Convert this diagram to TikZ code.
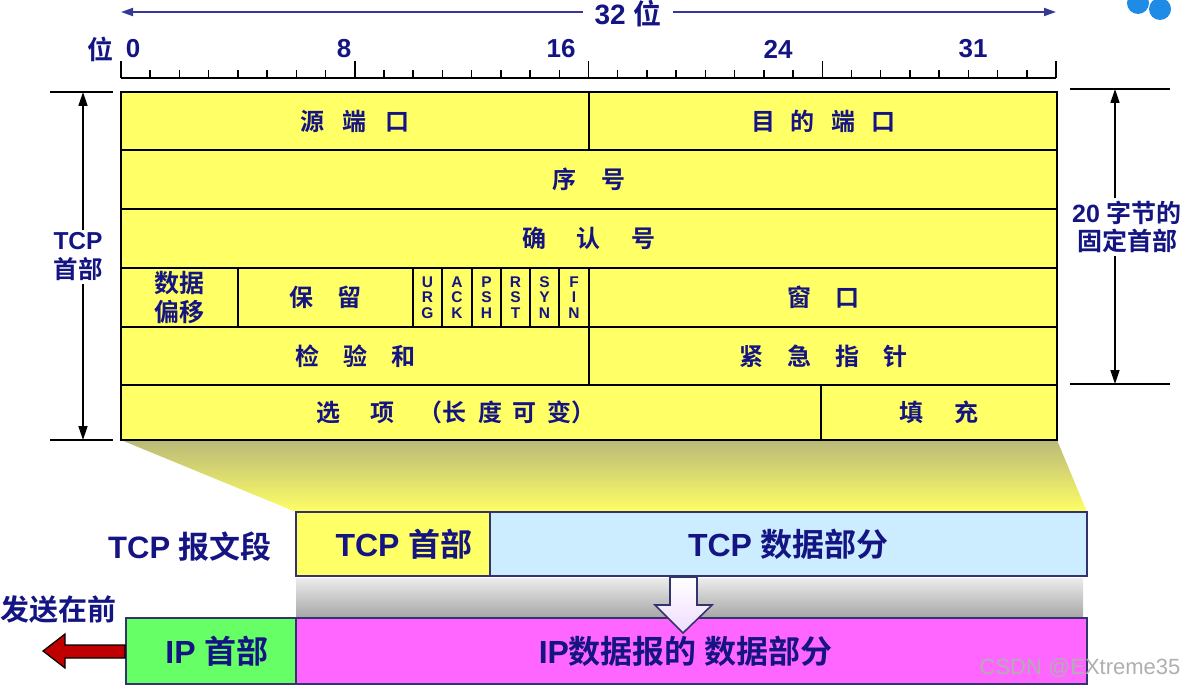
\documentclass[tikz,border=0pt]{standalone}
\usepackage{fontspec}
\setmainfont{Liberation Sans}
\newfontfamily\cjk{Noto Sans CJK SC}[BoldFont={Noto Sans CJK SC Bold}]
\usetikzlibrary{arrows.meta,positioning}
\definecolor{navy}{RGB}{20,20,130}
\definecolor{rulerblue}{RGB}{55,55,150}
\definecolor{hdryellow}{RGB}{255,255,102}
\definecolor{funneltop}{RGB}{185,185,120}
\definecolor{datablue}{RGB}{204,236,255}
\definecolor{ipgreen}{RGB}{102,255,102}
\definecolor{ipmagenta}{RGB}{255,102,255}
\definecolor{boxline}{RGB}{51,51,110}
\definecolor{arrowred}{RGB}{192,0,0}
\definecolor{arrowpink}{RGB}{240,220,255}
\definecolor{iconblue}{RGB}{30,140,230}
\definecolor{markgray}{RGB}{175,175,175}
\newcommand{\zh}[1]{{\cjk #1}}
\newcommand{\gap}[1]{\hspace{#1pt}}
\tikzset{
    %Define standard arrow tip
    >={Triangle[length=14pt,width=9pt]},
    %Define style for header cells
    cell/.style={
           rectangle,
           draw=black, line width=1.4pt,
           fill=hdryellow,
           inner sep=0pt, outer sep=0pt,
           text=navy,
           font=\fontsize{24}{28}\selectfont\bfseries,
           align=center},
    flag/.style={
           cell,
           font=\fontsize{15.5}{15.5}\selectfont\bfseries},
    %Define style for segment boxes
    seg/.style={
           rectangle,
           draw=boxline, line width=1.8pt,
           inner sep=0pt, outer sep=0pt,
           text=navy,
           font=\fontsize{32}{34}\selectfont\bfseries},
    %Define style for free labels
    lbl/.style={
           text=navy,
           font=\fontsize{26}{29}\selectfont\bfseries,
           align=center},
    big/.style={
           lbl,
           font=\fontsize{31}{34}\selectfont\bfseries},
    % Define bracket arrow style
    dim/.style={
           <->,
           line width=1.6pt}
}
\begin{document}
\begin{tikzpicture}[x=1pt,y=-1pt]
\useasboundingbox (0,0) rectangle (1188,692);
% funnel under the header
\shade[top color=funneltop, bottom color=hdryellow] (121,440) -- (1057,440) -- (1087,512) -- (296,512) -- cycle;
% header cells
\node[cell, minimum width=468pt, minimum height=58pt, anchor=north west] (src) at (121,92) {\zh{源\gap{19}端\gap{19}口}};
\node[cell, minimum width=468pt, minimum height=58pt, right=0pt of src] (dst) {\zh{目\gap{16}的\gap{16}端\gap{16}口}};
\node[cell, minimum width=936pt, minimum height=59pt, anchor=north west] (seq) at (src.south west) {\zh{序\gap{25}号}};
\node[cell, minimum width=936pt, minimum height=59pt, anchor=north west] (ack) at (seq.south west) {\zh{确\gap{31}认\gap{31}号}};
\node[cell, minimum width=117pt, minimum height=59pt, anchor=north west, font=\fontsize{25}{29}\selectfont\bfseries] (off) at (ack.south west) {\zh{数据}\\\zh{偏移}};
\node[cell, minimum width=175pt, minimum height=59pt, right=0pt of off] (rsv) {\zh{保\gap{25}留}};
\node[flag, minimum width=29pt, minimum height=59pt, right=0pt of rsv] (urg) {U\\R\\G};
\node[flag, minimum width=30pt, minimum height=59pt, right=0pt of urg] (ackf) {A\\C\\K};
\node[flag, minimum width=29pt, minimum height=59pt, right=0pt of ackf] (psh) {P\\S\\H};
\node[flag, minimum width=29pt, minimum height=59pt, right=0pt of psh] (rst) {R\\S\\T};
\node[flag, minimum width=29pt, minimum height=59pt, right=0pt of rst] (syn) {S\\Y\\N};
\node[flag, minimum width=30pt, minimum height=59pt, right=0pt of syn] (fin) {F\\I\\N};
\node[cell, minimum width=468pt, minimum height=59pt, right=0pt of fin] (win) {\zh{窗\gap{24}口}};
\node[cell, minimum width=468pt, minimum height=58pt, anchor=north west] (chk) at (off.south west) {\zh{检\gap{24}验\gap{24}和}};
\node[cell, minimum width=468pt, minimum height=58pt, right=0pt of chk] (uptr) {\zh{紧\gap{24}急\gap{24}指\gap{24}针}};
\node[cell, minimum width=700pt, minimum height=55pt, anchor=north west] (opt) at (chk.south west) {\zh{选\gap{31}项\gap{24}（长\gap{11}度\gap{11}可\gap{11}变）}\hspace*{30pt}};
\node[cell, minimum width=236pt, minimum height=55pt, right=0pt of opt] (pad) {\zh{填\gap{31}充}};
\draw[line width=2.8pt] (src.north west) rectangle (pad.south east);
% bit ruler
\coordinate (rl) at (121,78);
\coordinate (rr) at (1056,78);
\draw[line width=2pt] (rl) -- (rr);
\foreach \i in {0,...,32}{
  \pgfmathsetmacro{\th}{ifthenelse(mod(\i,8)==0,17,8)}
  \draw[line width=1.5pt] (121+\i*29.22,78) -- ++(0,-\th);
}
\node[lbl] (bitw) at (100,49) {\zh{位}};
\node[lbl] (b0) at (133,49) {0};
\node[lbl] (b8) at (344,49) {8};
\node[lbl] (b16) at (561,49) {16};
\node[lbl] (b24) at (778,49) {24};
\node[lbl] (b31) at (973,49) {31};
% 32 bit width arrow
\coordinate (wl) at (121,12);
\coordinate (wr) at (1056,12);
\draw[<->, draw=rulerblue, fill=rulerblue, line width=1.8pt, >={Triangle[length=12pt,width=8pt]}] (wl) -- (wr);
\node[lbl, fill=white, inner xsep=12pt, font=\fontsize{28}{30}\selectfont\bfseries] (wlbl) at (628,14) {32 \zh{位}};
% left bracket
\coordinate (lt) at (83,92);
\coordinate (lb) at (83,440);
\draw[line width=1.6pt] (50,92) -- (113,92);
\draw[line width=1.6pt] (50,440) -- (113,440);
\draw[dim] (lt) -- (lb);
\node[lbl, fill=white, font=\fontsize{24.5}{29}\selectfont\bfseries] (hdrlbl) at (78,257) {TCP\\\zh{首部}};
% right bracket
\coordinate (rt) at (1115,89);
\coordinate (rb) at (1115,384);
\draw[line width=1.6pt] (1070,89) -- (1170,89);
\draw[line width=1.6pt] (1070,384) -- (1170,384);
\draw[dim] (rt) -- (rb);
\node[lbl, fill=white, font=\fontsize{25}{28}\selectfont\bfseries] (fixlbl) at (1127,227) {20 \zh{字节的}\\\zh{固定首部}};
% TCP segment
\node[seg, fill=hdryellow, minimum width=194pt, minimum height=64pt] (tcphdr) at (393,544) {\hspace*{22pt}TCP \zh{首部}};
\node[seg, fill=datablue, minimum width=597pt, minimum height=64pt, right=0pt of tcphdr] (tcpdata) {TCP \zh{数据部分}};
\node[big] (seglbl) at (190,547) {TCP \zh{报文段}};
% grey band
\shade[top color=gray!15, bottom color=gray!70] (296,578) rectangle (1083,618);
% IP datagram
\node[seg, fill=ipgreen, minimum width=170pt, minimum height=66pt] (iphdr) at (211,651) {\hspace*{12pt}IP \zh{首部}};
\node[seg, fill=ipmagenta, minimum width=791pt, minimum height=66pt, right=0pt of iphdr] (ipdata) {IP\zh{数据报的 数据部分}\hspace*{12pt}};
% down arrow
\draw[draw=boxline, line width=1.6pt, top color=white, bottom color=arrowpink] (670,577) -- (697,577) -- (697,605) -- (712,605) -- (683,633) -- (655,605) -- (670,605) -- cycle;
% send-first arrow
\draw[draw=black, line width=1.2pt, fill=arrowred] (125,645) -- (65,645) -- (65,634) -- (43,651) -- (65,668) -- (65,658) -- (125,658) -- cycle;
\node[lbl, font=\fontsize{29}{30}\selectfont\bfseries] (sendlbl) at (58,609) {\zh{发送在前}};
% watermark and icon
\node[text=markgray, font=\fontsize{22}{24}\selectfont, anchor=east] (mark) at (1184,668) {CSDN @EXtreme35};
\fill[iconblue] (1138,3) circle (11);
\fill[iconblue] (1160,9) circle (11);
\end{tikzpicture}
\end{document}
